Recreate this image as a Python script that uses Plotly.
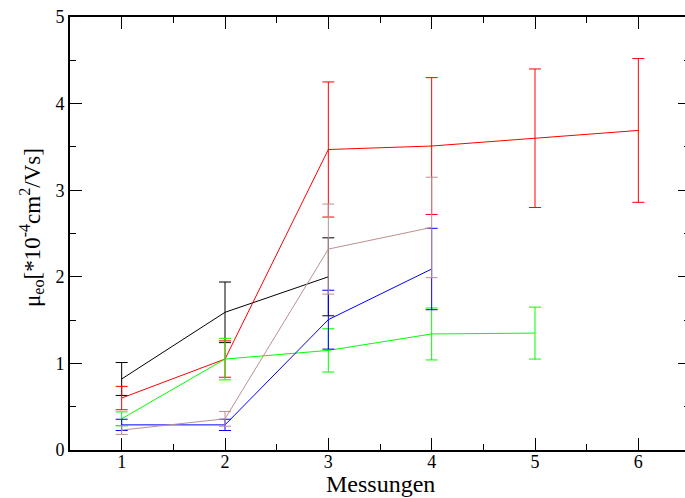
import plotly.graph_objects as go

# Data (Messungen index, mobility values, error bars)
black_x = [1, 2, 3]
black_y = [0.82, 1.59, 2.00]
black_e = [0.19, 0.35, 0.45]

red_x = [1, 2, 3, 4, 5, 6]
red_y = [0.60, 1.05, 3.47, 3.51, 3.60, 3.69]
red_e = [0.135, 0.21, 0.78, 0.79, 0.80, 0.83]

green_x = [1, 2, 3, 4, 5]
green_y = [0.36, 1.05, 1.15, 1.34, 1.35]
green_e = [0.08, 0.24, 0.25, 0.30, 0.30]

blue_x = [1, 2, 3, 4]
blue_y = [0.29, 0.29, 1.505, 2.09]
blue_e = [0.065, 0.065, 0.34, 0.47]

brown_x = [1, 2, 3, 4]
brown_y = [0.23, 0.36, 2.32, 2.57]
brown_e = [0.05, 0.085, 0.52, 0.58]

series = [
    (black_x, black_y, black_e, "#000000"),
    (red_x, red_y, red_e, "#ff0000"),
    (green_x, green_y, green_e, "#00ff00"),
    (blue_x, blue_y, blue_e, "#0000ff"),
    (brown_x, brown_y, brown_e, "#bc8f8f"),
]

FONT = "Liberation Serif"

fig = go.Figure()
for xs, ys, es, col in series:
    fig.add_trace(go.Scatter(
        x=xs, y=ys, mode="lines",
        line=dict(color=col, width=1),
        error_y=dict(type="data", array=es, visible=True, color=col,
                     thickness=1, width=6),
        showlegend=False, hoverinfo="skip",
    ))

# invisible trace for the right-side ticks
fig.add_trace(go.Scatter(x=[1], y=[0], yaxis="y2", mode="markers",
                         marker=dict(opacity=0), showlegend=False,
                         hoverinfo="skip"))

W, H = 685, 498
ML, MR, MT, MB = 70, 0, 17, 48
PW = W - ML - MR
PH = H - MT - MB
px_per_unit = 620 / 6.0
xmax = 0.5 + PW / px_per_unit

fig.update_layout(
    width=W, height=H,
    margin=dict(l=ML, r=MR, t=MT, b=MB),
    paper_bgcolor="white", plot_bgcolor="white",
    font=dict(family=FONT, size=18, color="black"),
    xaxis=dict(
        range=[0.5, xmax], showgrid=False, zeroline=False,
        showline=True, linecolor="black", linewidth=2, mirror="ticks",
        ticks="inside", ticklen=12, tickwidth=1, tickcolor="black",
        tickmode="linear", tick0=1, dtick=1,
        minor=dict(ticks="inside", ticklen=6, dtick=0.5, tick0=0.5,
                   tickcolor="black", tickwidth=1),
        tickfont=dict(family=FONT, size=18),
        ticklabelstandoff=-6,
    ),
    yaxis=dict(
        range=[0, 5], showgrid=False, zeroline=False,
        showline=True, linecolor="black", linewidth=2,
        ticks="inside", ticklen=12, tickwidth=1, tickcolor="black",
        tickmode="linear", tick0=0, dtick=1,
        minor=dict(ticks="inside", ticklen=6, dtick=0.5,
                   tickcolor="black", tickwidth=1),
        tickfont=dict(family=FONT, size=18),
    ),
    yaxis2=dict(
        range=[0, 5], overlaying="y", side="right", showgrid=False,
        zeroline=False, showline=False, showticklabels=False,
        ticks="inside", ticklen=7, tickwidth=1, tickcolor="black",
        tickmode="linear", tick0=0, dtick=1,
        minor=dict(ticks="inside", ticklen=1, dtick=0.5,
                   tickcolor="black", tickwidth=1),
    ),
    annotations=[
        dict(text="Messungen", xref="paper", yref="paper",
             x=(380 - ML) / PW, y=-(484 - (MT + PH)) / PH,
             xanchor="center", yanchor="middle", showarrow=False,
             font=dict(family=FONT, size=24, color="black")),
        dict(text="μ<sub>eo</sub>[*10<sup>-4</sup>cm<sup>2</sup>/Vs]",
             xref="paper", yref="paper",
             x=-(ML - 31) / PW, y=(MT + PH - 228) / PH,
             xanchor="center", yanchor="middle", textangle=-90,
             showarrow=False,
             font=dict(family=FONT, size=23, color="black")),
    ],
)

fig.write_html("out.html")
